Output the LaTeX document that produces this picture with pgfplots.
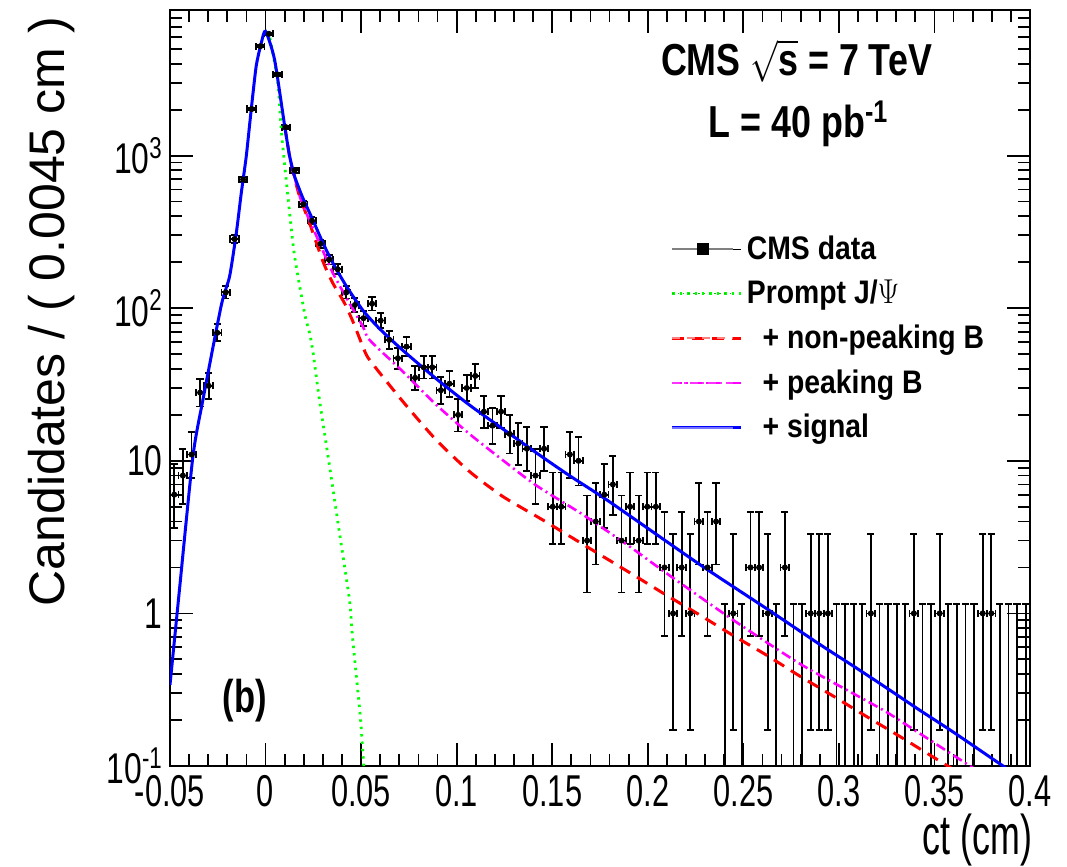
\documentclass[border=0pt]{standalone}
\usepackage{fontspec}
\setmainfont{Liberation Sans}
\usepackage{graphicx}
\usepackage{pgfplots}
\usepackage{pgfplotstable}
\pgfplotsset{compat=1.18}
\newcommand{\xl}[1]{\scalebox{0.69}[1]{#1}}
\newcommand{\yl}[1]{\scalebox{0.74}[1]{#1}}
\newcommand{\legt}[1]{\scalebox{0.87}[1]{#1}}
\definecolor{rgreen}{RGB}{0,255,0}
\definecolor{rred}{RGB}{255,0,0}
\definecolor{rmag}{RGB}{255,0,255}
\definecolor{rblue}{RGB}{0,0,255}

\pgfplotstableread{
x y em ep
-0.04775 6 2.38 3.58
-0.04325 8 2.77 3.95
-0.03875 11 3.27 4.42
-0.03425 28 5.29 6.35
-0.02975 31 5.57 6.63
-0.02525 69 8.31 9.36
-0.02075 127 11.27 12.3
-0.01625 284 16.85 17.9
-0.01175 697 26.4 27.4
-0.00725 2020 44.9 45.9
-0.00275 5210 72.2 73.2
0.00175 6280 79.2 80.2
0.00625 3400 58.3 59.3
0.01075 1535 39.2 40.2
0.01525 801 28.3 29.3
0.01975 480 21.9 22.9
0.02425 374 19.3 20.3
0.02875 264 16.2 17.2
0.03325 208 14.4 15.4
0.03775 180 13.4 14.4
0.04225 127 11.3 12.3
0.04675 105 10.2 11.2
0.05125 86 9.27 10.3
0.05575 107 10.3 11.3
0.06025 83 9.11 10.1
0.06475 62 7.87 8.9
0.06925 47 6.86 7.9
0.07375 56 7.48 8.5
0.07825 35 5.92 6.97
0.08275 41 6.4 7.45
0.08725 41 6.4 7.45
0.09175 29 5.39 6.44
0.09625 32 5.66 6.7
0.10075 20 4.43 5.54
0.10525 30 5.48 6.53
0.10975 36 6.0 7.05
0.11425 21 4.55 5.65
0.11875 17 4.08 5.2
0.12325 21 4.55 5.65
0.12775 15 3.83 4.96
0.13225 13 3.56 4.70
0.13675 12 3.42 4.56
0.14125 8 2.77 3.95
0.14575 12 3.42 4.56
0.15025 5 2.16 3.38
0.15475 5 2.16 3.38
0.15925 11 3.27 4.42
0.16375 10 3.11 4.27
0.16825 3 1.63 2.92
0.17275 4 1.91 3.16
0.17725 6 2.38 3.58
0.18175 7 2.58 3.77
0.18625 3 1.63 2.92
0.19075 5 2.16 3.38
0.19525 3 1.63 2.92
0.19975 5 2.16 3.38
0.20425 5 2.16 3.38
0.20875 2 1.29 2.64
0.21325 1 0.827 2.30
0.21775 2 1.29 2.64
0.22225 1 0.827 2.30
0.22675 4 1.91 3.16
0.23125 2 1.29 2.64
0.23575 4 1.91 3.16
0.24025 0.01 0 1.138
0.24475 1 0.827 2.30
0.24925 0.01 0 1.138
0.25375 2 1.29 2.64
0.25825 2 1.29 2.64
0.26275 1 0.827 2.30
0.26725 0.01 0 1.138
0.27175 2 1.29 2.64
0.27625 0.01 0 1.138
0.28075 0.01 0 1.138
0.28525 1 0.827 2.30
0.28975 1 0.827 2.30
0.29425 1 0.827 2.30
0.29875 0.01 0 1.138
0.30325 0.01 0 1.138
0.30775 0.01 0 1.138
0.31225 0.01 0 1.138
0.31675 1 0.827 2.30
0.32125 0.01 0 1.138
0.32575 0.01 0 1.138
0.33025 0.01 0 1.138
0.33475 0.01 0 1.138
0.33925 1 0.827 2.30
0.34375 0.01 0 1.138
0.34825 0.01 0 1.138
0.35275 1 0.827 2.30
0.35725 0.01 0 1.138
0.36175 0.01 0 1.138
0.36625 0.01 0 1.138
0.37075 0.01 0 1.138
0.37525 1 0.827 2.30
0.37975 1 0.827 2.30
0.38425 0.01 0 1.138
0.38875 0.01 0 1.138
0.39325 0.01 0 1.138
0.39775 0.01 0 1.138
}\datatab

\pgfplotstableread{
x y
-0.0500 0.34
-0.0450 1.45
-0.0380 10.7
-0.0328 25
-0.0232 104
-0.0188 162
-0.0153 311
-0.0127 569
-0.0101 989
-0.0075 2003
-0.0049 3854
-0.0022 5487
0.0000 6530
0.0047 4266
0.0099 1596
0.0126 991
0.0152 731
0.0195 528
0.0247 380
0.0300 268
0.0352 198
0.0422 140
0.0509 97
0.0596 73.5
0.0718 53
0.0893 34.5
0.1067 23.2
0.1241 16.2
0.1416 11.3
0.1590 8.0
0.1799 5.4
0.2270 2.1
0.2619 1.08
0.2897 0.63
0.3072 0.455
0.3246 0.327
0.3421 0.233
0.3595 0.168
0.3839 0.104
0.4000 0.076
}\bluetab

\pgfplotstableread{
x y
0.0000 6400
0.0021 6000
0.0064 3000
0.0082 1480
0.0099 895
0.0126 421
0.0152 219
0.0204 93
0.0230 69
0.0247 53
0.0282 25.1
0.0335 9.2
0.0387 3.36
0.0439 1.23
0.0453 0.75
0.0474 0.40
0.0496 0.21
0.0513 0.104
0.0525 0.07
}\greentab

\pgfplotstableread{
x y
0.0099 1596
0.0126 985
0.0152 715
0.0178 541
0.0230 362
0.0300 203
0.0352 146
0.0413 108
0.0457 81.9
0.0509 56.2
0.0544 45.9
0.0718 24.5
0.0893 13.7
0.1067 8.51
0.1241 5.84
0.1450 4.10
0.1747 2.44
0.1921 1.80
0.2096 1.32
0.2270 0.98
0.2444 0.72
0.2619 0.535
0.2793 0.39
0.2965 0.29
0.3142 0.212
0.3316 0.157
0.3542 0.105
0.3700 0.080
}\redtab

\pgfplotstableread{
x y
0.0126 990
0.0152 725
0.0178 545
0.0213 421
0.0282 268
0.0352 170
0.0439 108
0.0509 76
0.0544 62
0.0718 38.5
0.0893 23.3
0.1067 15.0
0.1241 10.1
0.1416 6.9
0.1659 4.45
0.1904 2.75
0.2096 1.84
0.2444 0.91
0.2793 0.47
0.3072 0.30
0.3246 0.227
0.3421 0.164
0.3665 0.104
0.3800 0.081
}\magtab

\begin{document}
\begin{tikzpicture}
\begin{axis}[
  width=430pt, height=378pt, scale only axis,
  xmin=-0.05, xmax=0.4,
  ymode=log, ymin=0.1, ymax=9000,
  xtick={-0.05,0,0.05,0.1,0.15,0.2,0.25,0.3,0.35,0.4},
  xticklabels={\xl{-0.05},\xl{0},\xl{0.05},\xl{0.1},\xl{0.15},\xl{0.2},\xl{0.25},\xl{0.3},\xl{0.35},\xl{0.4}},
  minor x tick num=4,
  ytick={0.1,1,10,100,1000},
  yticklabels={\yl{10\textsuperscript{-1}},\yl{1},\yl{10},\yl{10\textsuperscript{2}},\yl{10\textsuperscript{3}}},
  minor ytick={0.2,0.3,0.4,0.5,0.6,0.7,0.8,0.9,2,3,4,5,6,7,8,9,20,30,40,50,60,70,80,90,200,300,400,500,600,700,800,900,2000,3000,4000,5000,6000,7000,8000,9000},
  tick align=inside,
  major tick length=11.5pt, minor tick length=6pt,
  every tick/.style={black, line width=0.9pt},
  axis line style={line width=1.2pt},
  xticklabel style={font=\fontsize{22.3}{26}\selectfont, inner sep=0pt, yshift=-4.5pt},
  yticklabel style={font=\fontsize{21.5}{25}\selectfont, inner sep=0pt, xshift=-3.5pt},
  xlabel={\scalebox{0.64}[1]{ct (cm)}},
  xlabel style={font=\fontsize{28}{34}\selectfont, inner sep=0pt, at={(axis description cs:1.003,-0.0975)}, anchor=east},
  ylabel={Candidates / ( 0.0045 cm )},
  ylabel style={font=\fontsize{25}{30}\selectfont, at={(axis description cs:-0.102,1.0)}, anchor=south east},
  legend style={at={(axis description cs:0.575,0.7125)}, anchor=north west, draw=none, fill=none,
    font=\fontsize{16.3}{19}\bfseries\selectfont, row sep=5pt},
  legend cell align=left,
]
\addplot[black, only marks, mark=*, mark size=1.3pt,
  legend image code/.code={\path (0pt,0pt) -- (34.5pt,0pt); \draw[gray, line width=0.7pt] (0pt,0pt) -- (30.5pt,0pt); \fill[black] (12.5pt,-2.8pt) rectangle (18pt,2.8pt);},
  error bars/.cd, x dir=both, x fixed=0.00225, y dir=both, y explicit,
  error bar style={line width=0.9pt, black},
  error mark options={rotate=90, mark size=1.8pt, line width=0.9pt, black}]
  table[x=x, y=y, y error plus=ep, y error minus=em] {\datatab};
\addlegendentry{\legt{CMS data}}
\addplot[rgreen, line width=1.4pt, dash pattern=on 1.2pt off 2.5pt, smooth, tension=0.4,
  legend image code/.code={\path (0pt,0pt) -- (34.5pt,0pt); \draw[rgreen!80!black, line width=0.8pt, dash pattern=on 0.8pt off 1.8pt] (0pt,0pt) -- (30.5pt,0pt);}]
  table[x=x,y=y] {\greentab};
\addlegendentry{\legt{Prompt J/$\Psi$}}
\addplot[rred, line width=1.5pt, dash pattern=on 6pt off 4pt, smooth, tension=0.4,
  legend image code/.code={\path (0pt,0pt) -- (34.5pt,0pt); \draw[rred!50, line width=0.9pt, dash pattern=on 4pt off 3.5pt] (0pt,0pt) -- (30.5pt,0pt);}]
  table[x=x,y=y] {\redtab};
\addlegendentry{\legt{\ \ + non-peaking B}}
\addplot[rmag, line width=1.3pt, dash pattern=on 5pt off 2pt on 1pt off 2pt, smooth, tension=0.4,
  legend image code/.code={\path (0pt,0pt) -- (34.5pt,0pt); \draw[rmag!80, line width=0.9pt, dash pattern=on 4pt off 2pt on 1pt off 2pt] (0pt,0pt) -- (30.5pt,0pt);}]
  table[x=x,y=y] {\magtab};
\addlegendentry{\legt{\ \ + peaking B}}
\addplot[rblue, line width=1.5pt, smooth, tension=0.4,
  legend image code/.code={\path (0pt,0pt) -- (34.5pt,0pt); \draw[rblue!55, line width=1pt] (0pt,0pt) -- (30.5pt,0pt);}]
  table[x=x,y=y] {\bluetab};
\addlegendentry{\legt{\ \ + signal}}
\node[anchor=base, font=\fontsize{22.4}{26}\bfseries\selectfont] at (axis description cs:0.7285,0.914) {\scalebox{0.8}[1]{CMS $\sqrt{\mbox{\bfseries s}}$ = 7 TeV}};
\node[anchor=base, font=\fontsize{22.4}{26}\bfseries\selectfont] at (axis description cs:0.7308,0.831) {\scalebox{0.8}[1]{L = 40 pb\textsuperscript{-1}}};
\node[font=\fontsize{23}{27}\bfseries\selectfont] at (axis description cs:0.0872,0.086) {\scalebox{0.75}[1]{(b)}};
\end{axis}
\pgfresetboundingbox
\path[use as bounding box] (-85pt,-50.5pt) rectangle (448.5pt,383pt);
\end{tikzpicture}
\end{document}
